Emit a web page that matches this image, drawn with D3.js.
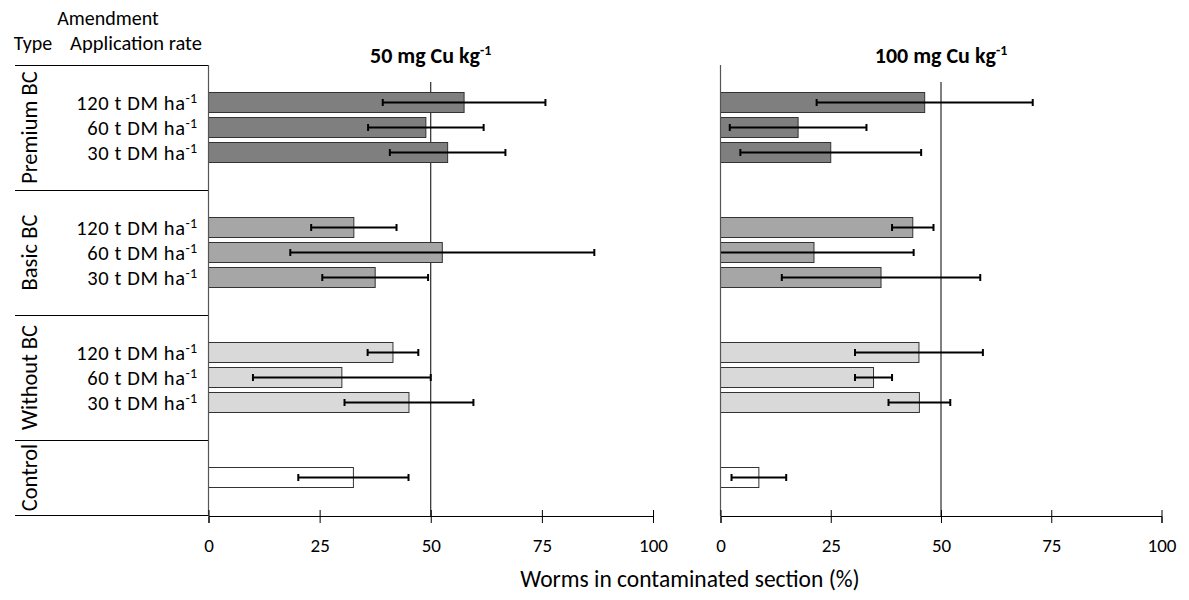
<!DOCTYPE html>
<html>
<head>
<meta charset="utf-8">
<script src="https://cdn.jsdelivr.net/npm/d3@7"></script>
<style>
  html, body { margin: 0; padding: 0; background: #fff; }
  svg text { font-family: Carlito, Calibri, Lato, "Open Sans", sans-serif; fill: #000; }
</style>
</head>
<body>
<svg id="chart" width="1189" height="600"></svg>
<script>
// ---- Data ----
const types = ["Premium BC", "Basic BC", "Without BC", "Control"];
const rates = ["120", "60", "30"];
const categories = [
  "Premium BC 120", "Premium BC 60", "Premium BC 30",
  "Basic BC 120", "Basic BC 60", "Basic BC 30",
  "Without BC 120", "Without BC 60", "Without BC 30",
  "Control"
];
const categoryType = ["Premium BC","Premium BC","Premium BC","Basic BC","Basic BC","Basic BC","Without BC","Without BC","Without BC","Control"];
const categoryRate = ["120","60","30","120","60","30","120","60","30",""];
// category axis with blank gaps between groups (as in the original)
const slots = [
  "gapA", "Premium BC 120", "Premium BC 60", "Premium BC 30", "gapB",
  "gapC", "Basic BC 120", "Basic BC 60", "Basic BC 30", "gapD",
  "gapE", "Without BC 120", "Without BC 60", "Without BC 30", "gapF",
  "gapG", "Control", "gapH"
];
const groupSlots = [
  ["gapA", "gapB"], ["gapC", "gapD"], ["gapE", "gapF"], ["gapG", "gapH"]
];
const mean50  = [57.5, 48.9, 53.8, 32.7, 52.6, 37.5, 41.5, 30.0, 45.1, 32.6];
const err50   = [18.3, 13.0, 13.0,  9.6, 34.2, 11.9,  5.7, 20.0, 14.5, 12.4];
const mean100 = [46.3, 17.6, 25.0, 43.6, 21.2, 36.4, 45.0, 34.7, 45.1,  8.7];
const err100  = [24.5, 15.5, 20.5,  4.7, 22.6, 22.5, 14.5,  4.2,  7.0,  6.2];
const panelTitles = ["50 mg Cu kg", "100 mg Cu kg"];
const xTicks = [0, 25, 50, 75, 100];
const typeFill = {"Premium BC": "#7f7f7f", "Basic BC": "#a6a6a6", "Without BC": "#d9d9d9", "Control": "#ffffff"};

// ---- Layout ----
const svg = d3.select("#chart");
const yTop = 65, yBottom = 515;
const y = d3.scaleBand().domain(slots).range([yTop, yBottom]).paddingInner(0.2).paddingOuter(0.1);
const slotEdge = s => y(s) - y.step() * y.paddingOuter();

const panels = [
  {x: d3.scaleLinear().domain([0, 100]).range([208.5, 653]), mean: mean50, err: err50, title: panelTitles[0]},
  {x: d3.scaleLinear().domain([0, 100]).range([720.5, 1161.5]), mean: mean100, err: err100, title: panelTitles[1]}
];

// ---- Left table ----
const tbl = svg.append("g");
const lineX0 = 15, lineX1 = 208.5;
const boundaries = [yTop].concat(groupSlots.map(g => slotEdge(g[1]) + y.step()));
tbl.selectAll("line.sep").data(boundaries).join("line")
  .attr("x1", lineX0).attr("x2", lineX1)
  .attr("y1", d => d).attr("y2", d => d)
  .attr("stroke", "#000").attr("stroke-width", 1).attr("shape-rendering", "crispEdges");

tbl.append("text").attr("x", 108).attr("y", 25).attr("text-anchor", "middle")
  .style("font-size", "20px").text("Amendment");
tbl.append("text").attr("x", 33).attr("y", 50).attr("text-anchor", "middle")
  .style("font-size", "20px").text("Type");
tbl.append("text").attr("x", 136).attr("y", 50).attr("text-anchor", "middle")
  .style("font-size", "20.5px").text("Application rate");

types.forEach((t, i) => {
  const y0 = slotEdge(groupSlots[i][0]);
  const y1 = slotEdge(groupSlots[i][1]) + y.step();
  const cy = (y0 + y1) / 2;
  tbl.append("text")
    .attr("transform", `translate(37,${cy}) rotate(-90)`)
    .attr("text-anchor", "middle")
    .style("font-size", "22.5px").text(t);
});

categories.forEach((c, i) => {
  if (!categoryRate[i]) return;
  const cy = y(c) + y.bandwidth() / 2;
  const t = tbl.append("text").attr("x", 197).attr("y", cy + 7.5)
    .attr("text-anchor", "end").style("font-size", "20.5px").style("letter-spacing", "0.6px");
  t.append("tspan").text(categoryRate[i] + " t DM ha");
  t.append("tspan").attr("dy", -7.5).style("font-size", "14px").style("letter-spacing", "0px").text("-1");
});

// ---- Panels ----
panels.forEach(p => {
  const g = svg.append("g");
  const x = p.x;
  // reference line at 50
  g.append("line").attr("x1", x(50)).attr("x2", x(50)).attr("y1", 82).attr("y2", yBottom + 1)
    .attr("stroke", "#000").attr("stroke-width", 1);
  // bars
  g.selectAll("rect.bar").data(categories).join("rect")
    .attr("x", x(0)).attr("y", d => y(d))
    .attr("width", (d, i) => x(p.mean[i]) - x(0))
    .attr("height", y.bandwidth())
    .attr("fill", (d, i) => typeFill[categoryType[i]])
    .attr("stroke", "#333").attr("stroke-width", 1);
  // error bars
  categories.forEach((c, i) => {
    const cy = y(c) + y.bandwidth() / 2;
    const lo = p.mean[i] - p.err[i], hi = p.mean[i] + p.err[i];
    const loC = Math.max(0, lo);
    g.append("line").attr("x1", x(loC)).attr("x2", x(hi)).attr("y1", cy).attr("y2", cy)
      .attr("stroke", "#000").attr("stroke-width", 2);
    const caps = lo >= 0 ? [lo, hi] : [hi];
    caps.forEach(v => {
      g.append("line").attr("x1", x(v)).attr("x2", x(v)).attr("y1", cy - 3.5).attr("y2", cy + 3.5)
        .attr("stroke", "#000").attr("stroke-width", 2);
    });
  });
  // vertical category axis line
  g.append("line").attr("x1", x(0)).attr("x2", x(0)).attr("y1", yTop).attr("y2", yBottom + 1)
    .attr("stroke", "#555").attr("stroke-width", 1.2);
  // x axis
  const ax = g.append("g").attr("transform", `translate(0,${yBottom + 1})`)
    .call(d3.axisBottom(x).tickValues(xTicks).tickSize(7).tickPadding(16).tickFormat(d3.format("d")));
  ax.select(".domain").attr("stroke", "#000").attr("stroke-width", 1);
  ax.selectAll(".tick line").attr("y1", -6).attr("y2", 7).attr("stroke", "#000");
  ax.selectAll(".tick text").style("font-size", "19px").style("font-family", "Carlito, Calibri, Lato, sans-serif");
  // title
  const tt = g.append("text").attr("x", x(50)).attr("y", 63).attr("text-anchor", "middle")
    .style("font-size", "22px").style("font-weight", "bold");
  tt.append("tspan").text(p.title);
  tt.append("tspan").attr("dy", -8).style("font-size", "14px").text("-1");
});

// axis title
svg.append("text").attr("x", 690).attr("y", 587).attr("text-anchor", "middle")
  .style("font-size", "23.5px").text("Worms in contaminated section (%)");
</script>
</body>
</html>
